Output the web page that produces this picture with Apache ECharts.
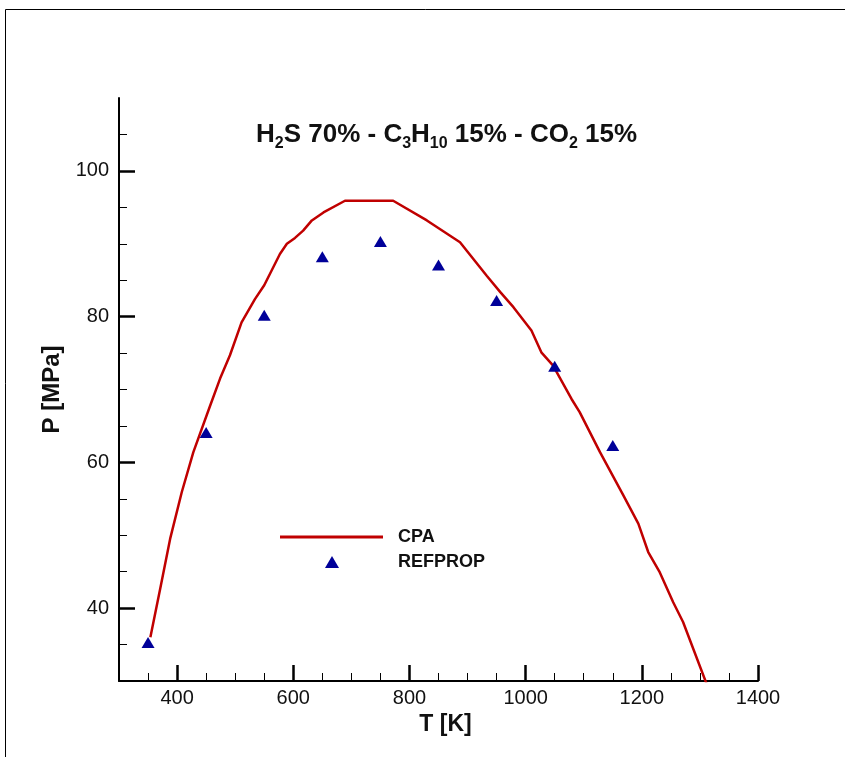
<!DOCTYPE html>
<html>
<head>
<meta charset="utf-8">
<script src="https://cdn.jsdelivr.net/npm/echarts@6/dist/echarts.min.js"></script>
<style>
html,body{margin:0;padding:0;background:#fff;}
#chart{width:845px;height:757px;}
</style>
</head>
<body>
<div id="chart"></div>
<script>
// CPA model curve
const cpaT = [354, 371, 388, 408, 428, 457, 474, 491, 511, 534, 550, 577, 589, 603, 617, 632, 652, 689, 772, 830, 887, 910, 933, 956, 979, 1010, 1027, 1047, 1079, 1093, 1128, 1168, 1194, 1211, 1231, 1254, 1271, 1312];
const cpaP = [36.0, 42.7, 49.5, 55.9, 61.4, 67.8, 71.5, 74.7, 79.2, 82.4, 84.3, 88.6, 90.0, 90.8, 91.8, 93.2, 94.3, 95.9, 95.9, 93.2, 90.2, 87.9, 85.6, 83.4, 81.3, 78.1, 75.1, 73.3, 68.7, 66.9, 61.4, 55.5, 51.6, 47.7, 44.9, 40.8, 38.1, 29.5];
// REFPROP reference points
const refT = [350, 450, 550, 650, 750, 850, 950, 1050, 1150];
const refP = [35.3, 64.1, 80.2, 88.2, 90.3, 87.1, 82.2, 73.2, 62.3];
// ticks
const xMajorTicks = [400, 600, 800, 1000, 1200, 1400];
const xMinorTicks = [350, 400, 450, 500, 550, 600, 650, 700, 750, 800, 850, 900, 950, 1000, 1050, 1100, 1150, 1200, 1250, 1300, 1350, 1400];
const yMajorTicks = [40, 60, 80, 100];
const yMinorTicks = [35, 40, 45, 50, 55, 60, 65, 70, 75, 80, 85, 90, 95, 100, 105];

const FONT = '"Liberation Sans", Arial, sans-serif';
const chart = echarts.init(document.getElementById('chart'), null, {renderer: 'canvas'});

const baseX = {type: 'value', min: 300, max: 1400, position: 'bottom', splitLine: {show: false}};
const baseY = {type: 'value', min: 30, max: 110, position: 'left', splitLine: {show: false}};
function tickAxis(base, values, len, width) {
  return Object.assign({}, base, {
    axisLine: {show: false},
    axisTick: {show: true, inside: true, length: len, lineStyle: {color: '#000', width: width}, customValues: values},
    axisLabel: {show: false}
  });
}

chart.setOption({
  backgroundColor: '#fff',
  animation: false,
  grid: {left: 119, right: 87, top: 98, bottom: 76, containLabel: false},
  title: {
    text: 'H{s|2}S 70% - C{s|3}H{s|10} 15% - CO{s|2} 15%',
    left: 251, top: 113,
    textStyle: {
      fontFamily: FONT, fontSize: 26, fontWeight: 'bold', color: '#111', lineHeight: 28,
      rich: {s: {fontFamily: FONT, fontSize: 16, fontWeight: 'bold', color: '#111', verticalAlign: 'bottom', lineHeight: 34}}
    }
  },
  legend: [
    {
      orient: 'vertical', left: 280, top: 528, padding: 0,
      itemWidth: 103, itemHeight: 3, icon: 'rect',
      textStyle: {fontFamily: FONT, fontSize: 18, fontWeight: 'bold', color: '#111', padding: [0, 0, 0, 10]},
      data: ['CPA']
    },
    {
      orient: 'vertical', left: 325, top: 553, padding: 0,
      itemWidth: 14, itemHeight: 12, icon: 'triangle',
      textStyle: {fontFamily: FONT, fontSize: 18, fontWeight: 'bold', color: '#111', padding: [0, 0, 0, 54]},
      data: ['REFPROP']
    }
  ],
  xAxis: [
    Object.assign({}, baseX, {
      name: 'T [K]', nameLocation: 'middle', nameGap: 27,
      nameTextStyle: {fontFamily: FONT, fontSize: 23, fontWeight: 'bold', color: '#111', padding: [0, 0, 0, 14]},
      axisLine: {show: true, lineStyle: {color: '#000', width: 2}},
      axisTick: {show: false},
      axisLabel: {show: true, margin: 7, fontFamily: FONT, fontSize: 20, color: '#111', customValues: xMajorTicks,
        formatter: v => String(v)}
    }),
    tickAxis(baseX, xMinorTicks, 8, 1),
    tickAxis(baseX, xMajorTicks, 16, 2.5)
  ],
  yAxis: [
    Object.assign({}, baseY, {
      name: 'P [MPa]', nameLocation: 'middle', nameGap: 43, nameRotate: 90,
      nameTextStyle: {fontFamily: FONT, fontSize: 24, fontWeight: 'bold', color: '#111'},
      axisLine: {show: true, lineStyle: {color: '#000', width: 2}},
      axisTick: {show: false},
      axisLabel: {show: true, margin: 10, fontFamily: FONT, fontSize: 20, color: '#111', customValues: yMajorTicks,
        formatter: v => String(v)}
    }),
    tickAxis(baseY, yMinorTicks, 8, 1),
    tickAxis(baseY, yMajorTicks, 16, 2.5)
  ],
  series: [
    {
      name: 'CPA', type: 'line', xAxisIndex: 0, yAxisIndex: 0,
      data: cpaT.map((t, i) => [t, cpaP[i]]),
      symbol: 'none', smooth: false, clip: true,
      lineStyle: {color: '#c00000', width: 2.5},
      itemStyle: {color: '#c00000'}
    },
    {
      name: 'REFPROP', type: 'scatter', xAxisIndex: 0, yAxisIndex: 0,
      data: refT.map((t, i) => [t, refP[i]]),
      symbol: 'triangle', symbolSize: [13, 11],
      itemStyle: {color: '#000099', opacity: 1},
      z: 3
    }
  ],
  graphic: [
    {type: 'rect', silent: true, shape: {x: 5.5, y: 9.5, width: 1000, height: 1000},
     style: {fill: null, stroke: '#000', lineWidth: 1}, z: 100}
  ]
});
</script>
</body>
</html>
